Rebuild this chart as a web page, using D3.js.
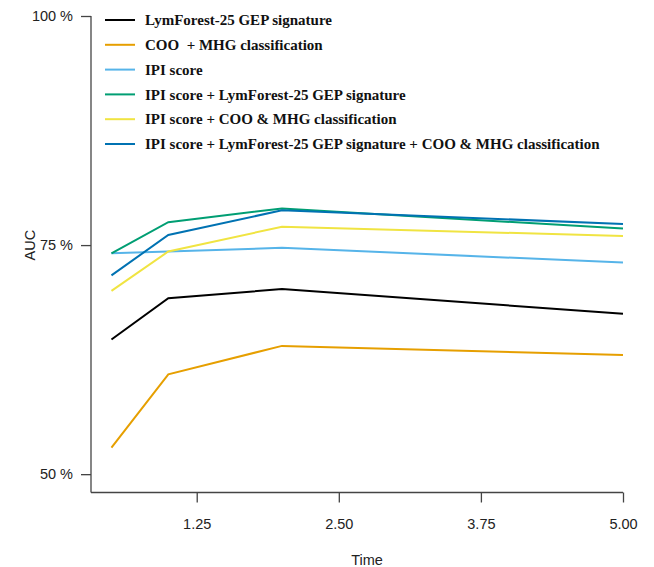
<!DOCTYPE html>
<html>
<head>
<meta charset="utf-8">
<script src="https://d3js.org/d3.v7.min.js"></script>
<style>
  body { margin: 0; background: #fff; }
</style>
</head>
<body>
<div id="chart"></div>
<script>
// data
var times = [0.5, 1, 2, 5];
var seriesNames = [
  "LymForest-25 GEP signature",
  "COO  + MHG classification",
  "IPI score",
  "IPI score + LymForest-25 GEP signature",
  "IPI score + COO & MHG classification",
  "IPI score + LymForest-25 GEP signature + COO & MHG classification"
];
var seriesColors = ["#000000", "#E69F00", "#56B4E9", "#009E73", "#F0E442", "#0072B2"];
var lymForest = [64.7, 69.2, 70.2, 67.5];
var cooMhg = [52.9, 60.9, 64.0, 63.0];
var ipi = [74.1, 74.3, 74.7, 73.1];
var ipiLym = [74.1, 77.5, 79.0, 76.8];
var ipiCoo = [70.0, 74.3, 77.0, 76.0];
var ipiLymCoo = [71.7, 76.1, 78.8, 77.3];
var yTicks = [50, 75, 100];
var xTicks = [1.25, 2.5, 3.75, 5];

var allValues = [lymForest, cooMhg, ipi, ipiLym, ipiCoo, ipiLymCoo];

var width = 654, height = 567;

var svg = d3.select("#chart")
  .append("svg")
  .attr("width", width)
  .attr("height", height);

// scales
var x = d3.scaleLinear()
  .domain([0.32, 5])
  .range([91, 623]);

var y = d3.scaleLinear()
  .domain([48, 100])
  .range([492.5, 16]);

// y axis
var yAxis = svg.append("g")
  .attr("transform", "translate(91,0)")
  .call(d3.axisLeft(y).tickValues(yTicks).tickSize(10).tickPadding(8)
    .tickFormat(function(d) { return d + " %"; }));
yAxis.select(".domain").remove();
yAxis.append("line")
  .attr("x1", 0).attr("x2", 0)
  .attr("y1", y(100)).attr("y2", y(48))
  .attr("stroke", "#444").attr("stroke-width", 1.3);

// x axis
var xAxis = svg.append("g")
  .attr("transform", "translate(0," + y(48) + ")")
  .call(d3.axisBottom(x).tickValues(xTicks).tickSize(10).tickPadding(16)
    .tickFormat(d3.format(".2f")));
xAxis.select(".domain").remove();
xAxis.append("line")
  .attr("x1", x(0.32)).attr("x2", x(5))
  .attr("y1", 0).attr("y2", 0)
  .attr("stroke", "#444").attr("stroke-width", 1.3);

svg.selectAll(".tick line").attr("stroke", "#444").attr("stroke-width", 1.3);
svg.selectAll(".tick text")
  .attr("fill", "#222")
  .style("font-family", "Liberation Sans, Arial, sans-serif")
  .style("font-size", "14.5px");

// axis titles
svg.append("text")
  .attr("transform", "translate(35," + y(75) + ") rotate(-90)")
  .attr("text-anchor", "middle")
  .attr("fill", "#222")
  .style("font-family", "Liberation Sans, Arial, sans-serif")
  .style("font-size", "14.5px")
  .text("AUC");

svg.append("text")
  .attr("x", (x(0.32) + x(5)) / 2 + 10)
  .attr("y", 565)
  .attr("text-anchor", "middle")
  .attr("fill", "#222")
  .style("font-family", "Liberation Sans, Arial, sans-serif")
  .style("font-size", "14.5px")
  .text("Time");

// lines
var line = d3.line()
  .x(function(d, i) { return x(times[i]); })
  .y(function(d) { return y(d); });

svg.selectAll(".series")
  .data(allValues)
  .enter()
  .append("path")
    .attr("class", "series")
    .attr("d", line)
    .attr("fill", "none")
    .attr("stroke", function(d, i) { return seriesColors[i]; })
    .attr("stroke-width", 2);

// legend
var legend = svg.append("g")
  .selectAll("g")
  .data(seriesNames)
  .enter().append("g")
  .attr("transform", function(d, i) { return "translate(105," + (20 + i * 24.8) + ")"; });

legend.append("line")
  .attr("x1", 0).attr("x2", 30)
  .attr("y1", 0).attr("y2", 0)
  .attr("stroke", function(d, i) { return seriesColors[i]; })
  .attr("stroke-width", 2);

legend.append("text")
  .attr("x", 40)
  .attr("y", 0)
  .attr("dy", "0.35em")
  .style("font-family", "Liberation Serif, Times New Roman, serif")
  .style("font-weight", "bold")
  .style("font-size", "15px")
  .style("white-space", "pre")
  .attr("fill", "#111")
  .text(function(d) { return d; });
</script>
</body>
</html>
